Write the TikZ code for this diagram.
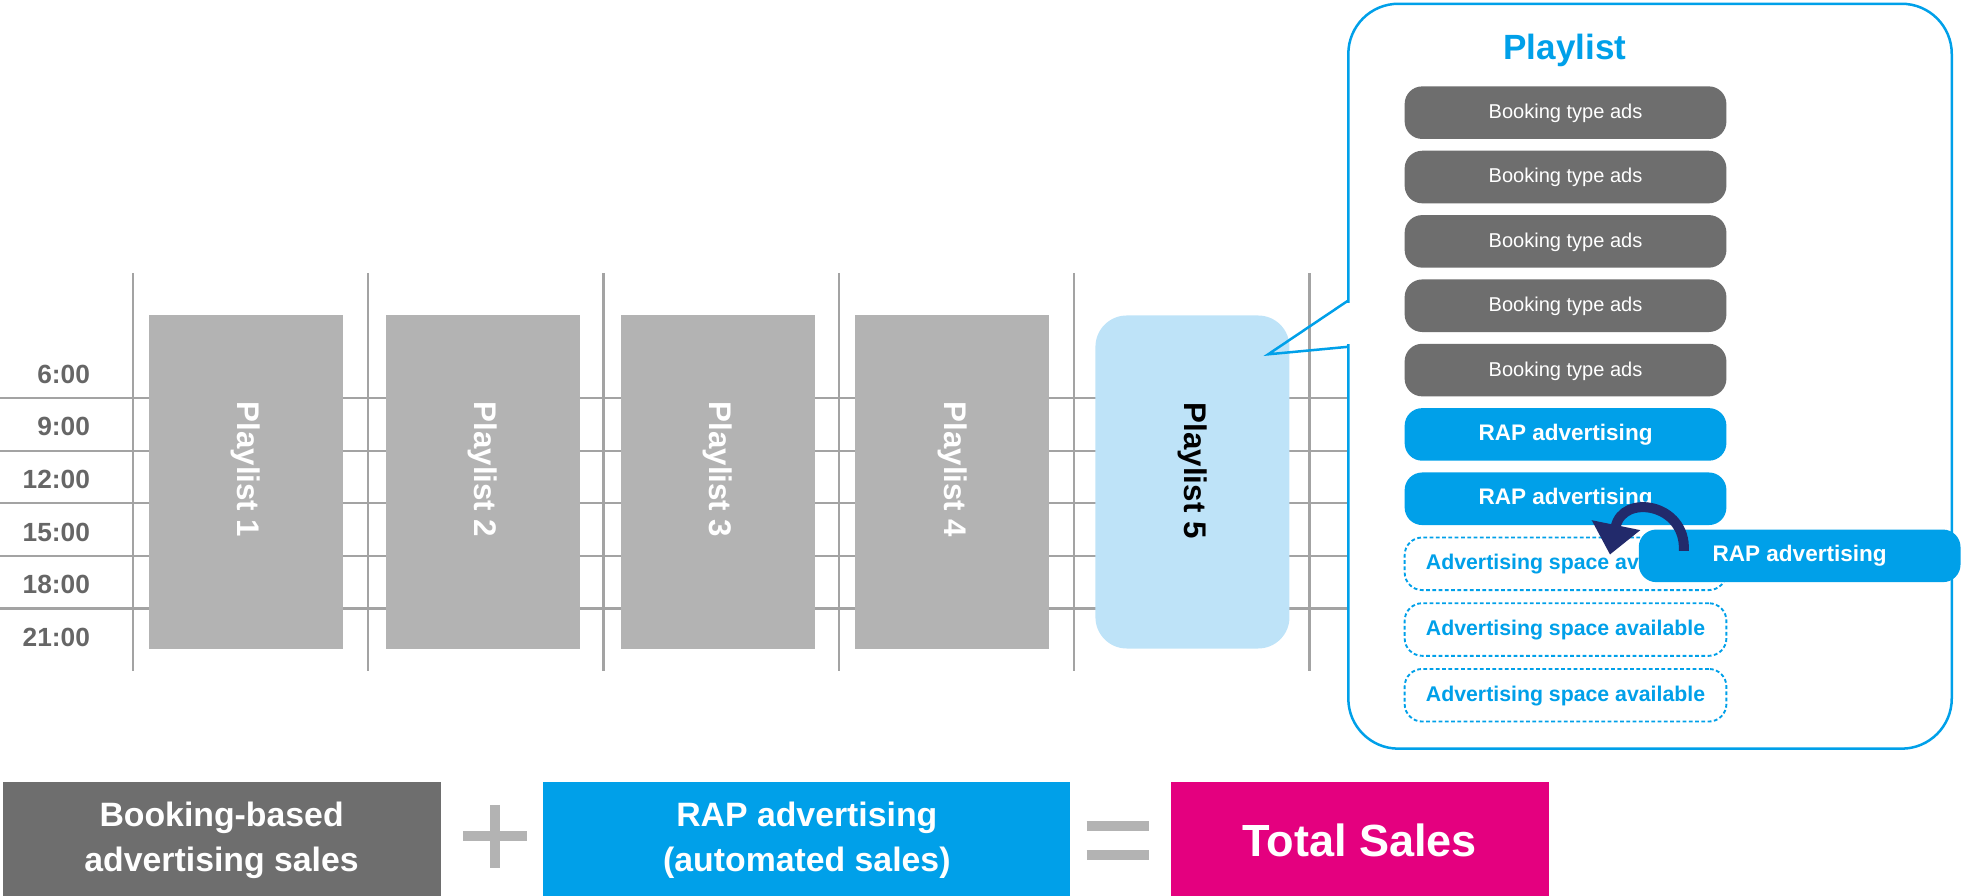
\documentclass[tikz,border=0pt]{standalone}
\usepackage{fontspec}
\setmainfont{Liberation Sans}
\usetikzlibrary{arrows.meta, positioning}

\definecolor{gridgray}{HTML}{A3A3A3}
\definecolor{boxgray}{HTML}{B3B3B3}
\definecolor{bookgray}{HTML}{6E6E6E}
\definecolor{rapblue}{HTML}{00A0E9}
\definecolor{paleblue}{HTML}{BEE3F8}
\definecolor{navyarrow}{HTML}{222A6B}
\definecolor{salespink}{HTML}{E4007F}
\definecolor{timegray}{HTML}{666666}

\begin{document}
\begin{tikzpicture}[x=1pt, y=-1pt,
  gridline/.style={gridgray, line width=1.8pt},
  timelabel/.style={anchor=east, inner sep=0pt, text=timegray, font=\fontsize{21}{21}\selectfont\bfseries},
  plbox/.style={fill=boxgray, minimum width=155pt, minimum height=266pt, inner sep=0pt},
  pltext/.style={rotate=-90, text=white, font=\fontsize{25}{25}\selectfont\bfseries},
  slot/.style={minimum width=257pt, minimum height=42pt, rounded corners=14pt, inner sep=0pt, text height=0.95em, text depth=0pt},
  booking/.style={slot, fill=bookgray, text=white, font=\fontsize{16}{16}\selectfont},
  rapslot/.style={slot, fill=rapblue, text=white, font=\fontsize{18}{18}\selectfont\bfseries},
  freeslot/.style={slot, draw=rapblue, fill=white, line width=1.5pt, dash pattern=on 3pt off 2pt, text=rapblue, font=\fontsize{17}{17}\selectfont\bfseries},
  salesbox/.style={minimum height=92pt, inner sep=0pt, text=white, align=center, font=\fontsize{27}{36}\selectfont\bfseries},
  sign/.style={boxgray, line width=8pt},
  node distance=9pt]

\useasboundingbox (0,0) rectangle (1568,715);

% time grid
\foreach \x in {106,294,482,670,858,1046}
  \draw[gridline] (\x,218) -- (\x,536);
\foreach \y in {318,360,402,444,486}
  \draw[gridline] (0,\y) -- (1077,\y);
\foreach \t [count=\k] in {6:00,9:00,12:00,15:00,18:00,21:00}
  \node[timelabel] (t\k) at (72,{299+42*(\k-1)}) {\t};

% playlists
\foreach \i/\cx in {1/196.5,2/385.5,3/573.5,4/760.5} {
  \node[plbox] (pl\i) at (\cx,385) {};
  \node[pltext] (pltxt\i) at ([yshift=10pt]pl\i.center) {Playlist \i};
}
\node[plbox, fill=paleblue, rounded corners=25pt] (pl5) at (952.5,385) {};
\node[pltext, text=black] (pltxt5) at ([yshift=9pt]pl5.center) {Playlist 5};

% speech bubble
\node[draw=rapblue, fill=white, line width=2pt, rounded corners=40pt, minimum width=482pt, minimum height=595pt] (bubble) at (1318,300.5) {};
\fill[white] (1075,242) rectangle (1080,275);
\draw[rapblue, line width=2pt] (1077,240) -- (1013,283) -- (1077,277);

\node[text=rapblue, font=\fontsize{28}{28}\selectfont\bfseries] (pltitle) at (1250,40) {Playlist};

\node[booking] (s1) at (1250.5,90) {Booking type ads};
\node[booking, below=of s1] (s2) {Booking type ads};
\node[booking, below=of s2] (s3) {Booking type ads};
\node[booking, below=of s3] (s4) {Booking type ads};
\node[booking, below=of s4] (s5) {Booking type ads};
\node[rapslot, below=of s5] (s6) {RAP advertising};
\node[rapslot, below=of s6] (s7) {RAP advertising};
\node[freeslot, below=of s7] (s8) {Advertising space available};
\node[freeslot, below=of s8] (s9) {Advertising space available};
\node[freeslot, below=of s9] (s10) {Advertising space available};

% new RAP ad moving in
\node[rapslot] (rapnew) at (1437.5,444) {RAP advertising};
\coordinate (arrtail) at (1345,440);
\coordinate (arrtip) at (1286,443);
\draw[navyarrow, line width=8pt, -{Triangle[width=38pt,length=24pt]}] (arrtail) .. controls (1347,402) and (1296,394) .. (arrtip);

% sales
\node[salesbox, fill=bookgray, minimum width=350pt] (bookingsales) at (177,671) {Booking-based\\advertising sales};
\node[salesbox, fill=rapblue, minimum width=421pt] (rapsales) at (644.5,671) {RAP advertising\\(automated sales)};
\node[salesbox, fill=salespink, minimum width=302pt, font=\fontsize{36}{36}\selectfont\bfseries] (totalsales) at (1086,671) {Total Sales};
\draw[sign] (370,668) -- (421,668) (395.5,643) -- (395.5,693);
\draw[sign] (868,660) -- (918,660) (868,683) -- (918,683);
\end{tikzpicture}
\end{document}
